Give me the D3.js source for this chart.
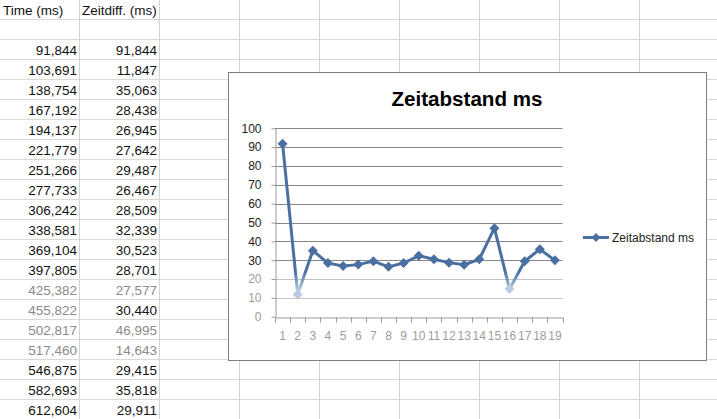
<!DOCTYPE html>
<html><head><meta charset="utf-8">
<script src="https://cdn.jsdelivr.net/npm/d3@7"></script>
<style>html,body{margin:0;padding:0;background:#fff;overflow:hidden}</style>
</head><body>
<svg id="s" width="717" height="419"></svg>
<script>
const headers = ["Time (ms)", "Zeitdiff. (ms)"];
const timeMs = ["91,844","103,691","138,754","167,192","194,137","221,779","251,266","277,733","306,242","338,581","369,104","397,805","425,382","455,822","502,817","517,460","546,875","582,693","612,604"];
const zeitdiff = ["91,844","11,847","35,063","28,438","26,945","27,642","29,487","26,467","28,509","32,339","30,523","28,701","27,577","30,440","46,995","14,643","29,415","35,818","29,911"];
const grayTime = [12,13,14,15];
const grayDiff = [12,14,15];
const categories = d3.range(1, 20).map(String);
const values = zeitdiff.map(s => +s.replace(",", "."));
const yTicks = [0,10,20,30,40,50,60,70,80,90,100];
const chartTitle = "Zeitabstand ms";
const seriesName = "Zeitabstand ms";

const svg = d3.select("#s");
const W = 717, H = 419;
const font = "'Liberation Sans', Arial, sans-serif";

// spreadsheet grid
const g0 = svg.append("g");
for (let y = 19.5; y < H; y += 20) g0.append("line").attr("x1",0).attr("x2",W).attr("y1",y).attr("y2",y).attr("stroke","#d9d9d9");
for (let x = 79.5; x < W; x += 80) g0.append("line").attr("x1",x).attr("x2",x).attr("y1",0).attr("y2",H).attr("stroke","#d4d4d4");

g0.append("text").attr("x",3).attr("y",15).text(headers[0]).attr("font-family",font).attr("font-size",13.5).attr("fill","#111");
g0.append("text").attr("x",82).attr("y",15).text(headers[1]).attr("font-family",font).attr("font-size",13.5).attr("fill","#111");
timeMs.forEach((t,i) => {
  g0.append("text").attr("x",77).attr("y",55+i*20).attr("text-anchor","end").text(t)
    .attr("font-family",font).attr("font-size",13.5).attr("fill", grayTime.includes(i) ? "#8a8a8a" : "#111");
  g0.append("text").attr("x",157).attr("y",55+i*20).attr("text-anchor","end").text(zeitdiff[i])
    .attr("font-family",font).attr("font-size",13.5).attr("fill", grayDiff.includes(i) ? "#8a8a8a" : "#111");
});

// chart box
svg.append("rect").attr("x",228.5).attr("y",72.5).attr("width",478).attr("height",288).attr("fill","#fff").attr("stroke","#7f7f7f");

svg.append("text").attr("x",467).attr("y",106).attr("text-anchor","middle").text(chartTitle)
  .attr("font-family",font).attr("font-weight","bold").attr("font-size",20).attr("fill","#000")
  .attr("textLength",151).attr("lengthAdjust","spacingAndGlyphs");

const x = d3.scaleBand().domain(categories).range([275, 562.5]);
const y = d3.scaleLinear().domain([0,100]).range([316.7, 128.3]);

const defs = svg.append("defs");
const grad = defs.append("linearGradient").attr("id","lg").attr("gradientUnits","userSpaceOnUse")
  .attr("x1",0).attr("x2",0).attr("y1",y(24)).attr("y2",y(14));
grad.append("stop").attr("offset",0).attr("stop-color","#4a70a2");
grad.append("stop").attr("offset",1).attr("stop-color","#b9cce3");

// gridlines
yTicks.forEach(t => {
  if (t === 0) return;
  svg.append("line").attr("x1",275).attr("x2",562.5).attr("y1",Math.round(y(t))+0.5).attr("y2",Math.round(y(t))+0.5)
    .attr("stroke", t <= 20 ? "#c4c4c4" : "#868686");
});
// y axis
const yAxis = svg.append("g").attr("transform","translate(275.5,0)")
  .call(d3.axisLeft(y).tickValues(yTicks).tickSize(0).tickPadding(14));
yAxis.select(".domain").attr("stroke","#9a9a9a");
yAxis.selectAll("text").attr("font-family",font).attr("font-size",12)
  .attr("fill", d => d <= 20 ? "#9a9a9a" : "#222");
yAxis.selectAll(".tick").append("line").attr("x1",-4).attr("x2",0).attr("stroke","#9a9a9a");

// x axis
const xAxis = svg.append("g").attr("transform",`translate(0,${Math.round(y(0))+0.5})`)
  .call(d3.axisBottom(x).tickSize(0).tickPadding(14));
xAxis.select(".domain").attr("stroke","#9a9a9a");
xAxis.selectAll("text").attr("font-family",font).attr("font-size",12).attr("fill","#9d9d9d");
const bounds = categories.map(c => x(c)).concat([x(categories[18]) + x.bandwidth()]);
bounds.forEach(b => xAxis.append("line").attr("x1",Math.round(b)+0.5).attr("x2",Math.round(b)+0.5).attr("y1",0).attr("y2",5).attr("stroke","#9a9a9a"));

// line
const cx = c => x(c) + x.bandwidth()/2;
svg.append("path").datum(values).attr("fill","none").attr("stroke","url(#lg)").attr("stroke-width",3)
  .attr("stroke-linejoin","round")
  .attr("d", d3.line().x((d,i) => cx(categories[i])).y(d => y(d)));
const diamond = (px,py,r) => `M${px},${py-r}L${px+r},${py}L${px},${py+r}L${px-r},${py}Z`;
values.forEach((v,i) => {
  svg.append("path").attr("d", diamond(cx(categories[i]), y(v), 5))
    .attr("fill", v < 20 ? "#b9cce3" : "#4a70a2");
});

// legend
svg.append("line").attr("x1",583).attr("x2",609).attr("y1",237.5).attr("y2",237.5).attr("stroke","#4a70a2").attr("stroke-width",3);
svg.append("path").attr("d", diamond(596,237.5,4.5)).attr("fill","#4a70a2");
svg.append("text").attr("x",612).attr("y",241.5).text(seriesName).attr("font-family",font).attr("font-size",12).attr("fill","#222");
</script>
</body></html>
